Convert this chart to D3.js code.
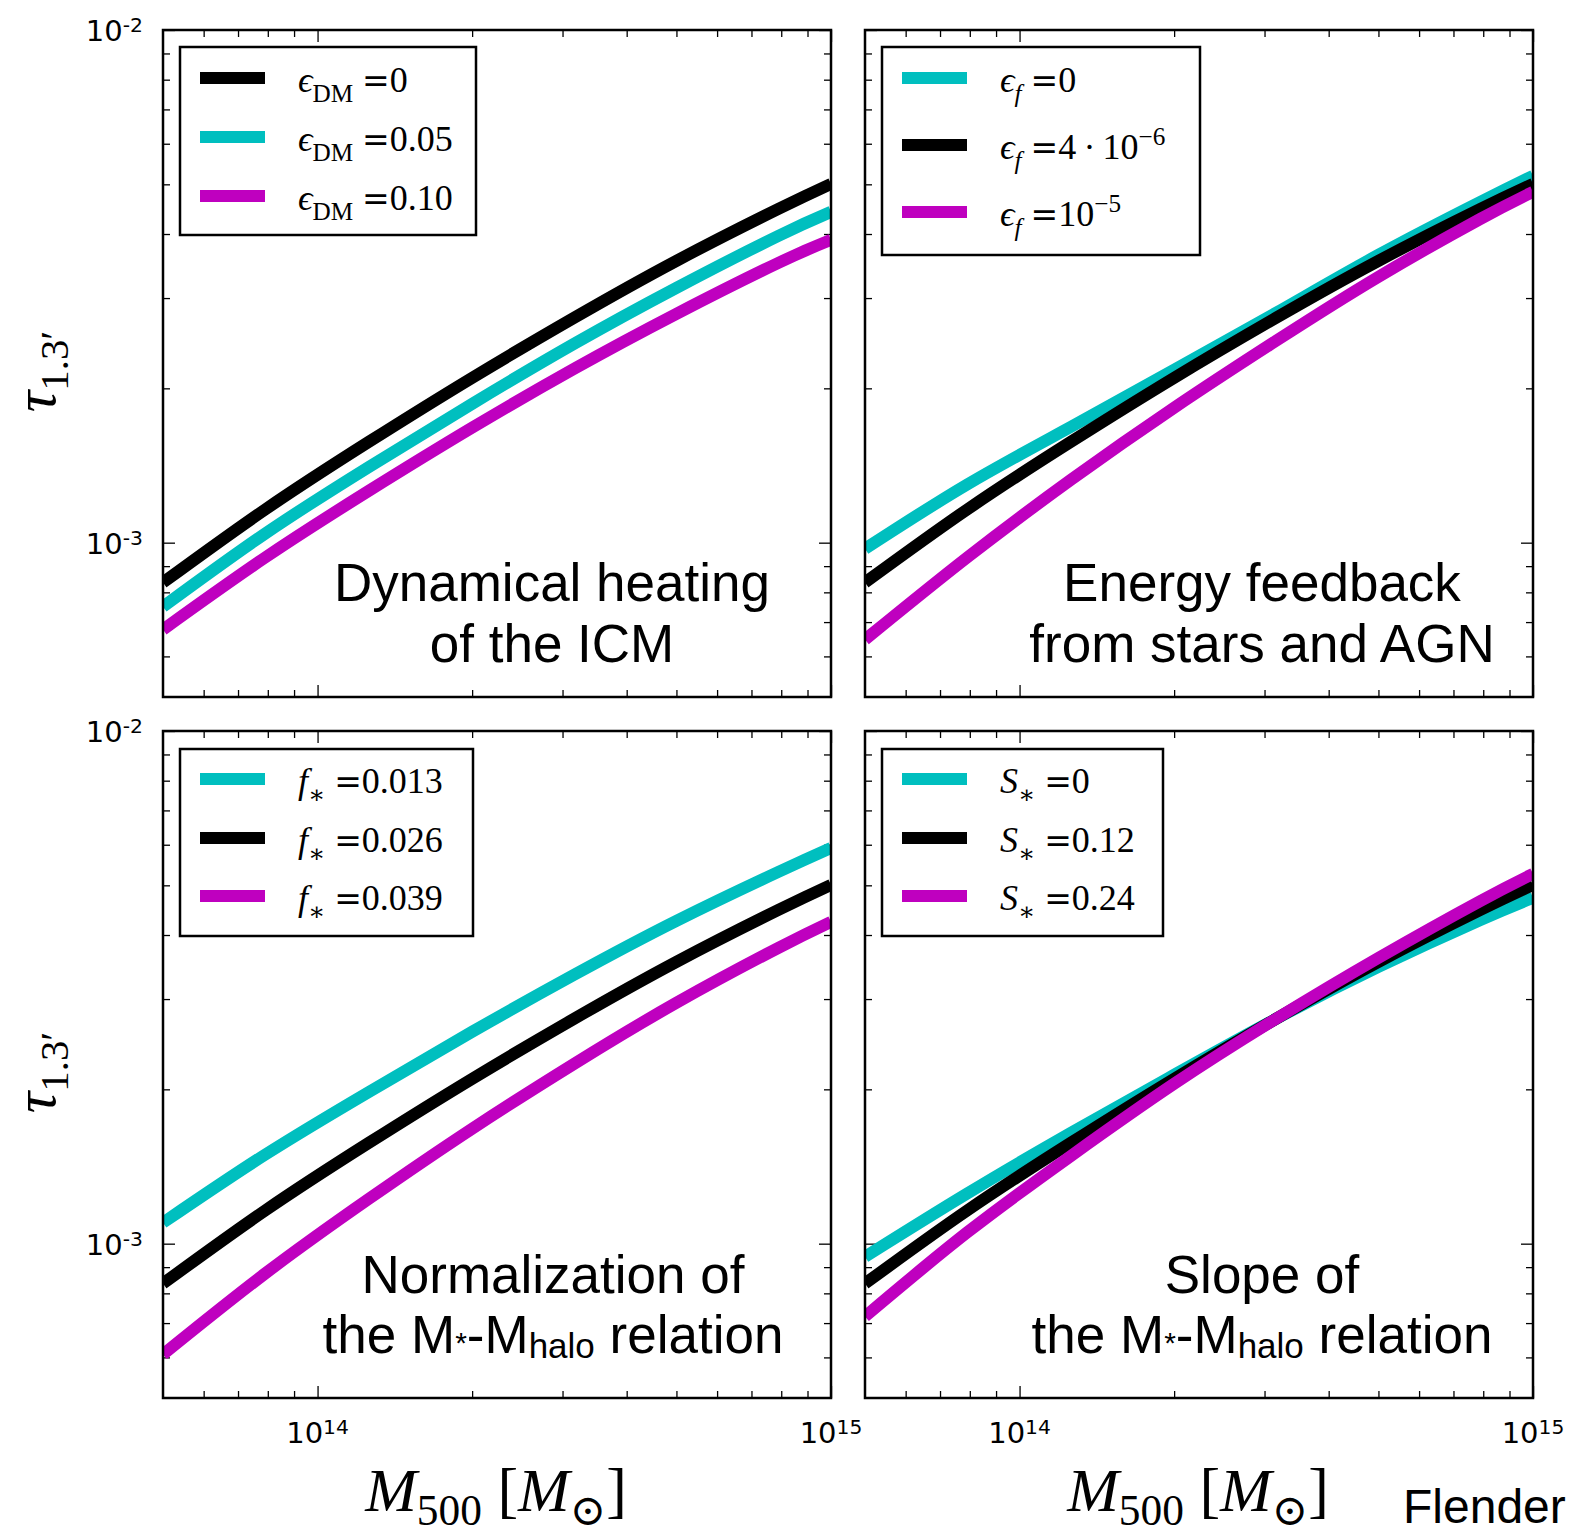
<!DOCTYPE html>
<html><head><meta charset="utf-8">
<script src="https://cdn.jsdelivr.net/npm/d3@7"></script>
<style>body{margin:0;background:#fff} svg{display:block} text{white-space:pre}</style>
</head><body>
<svg id="chart" width="1572" height="1533"></svg>
<script>
// ---- data ----
const massGrid      = [5.0e13, 7.9e13, 1.26e14, 2.0e14, 3.16e14, 5.0e14, 7.9e14, 1.0e15];
const tauFiducial   = [8.36e-4, 1.160e-3, 1.574e-3, 2.097e-3, 2.746e-3, 3.546e-3, 4.478e-3, 5.010e-3];
const tauEpsDM005   = [7.50e-4, 1.041e-3, 1.406e-3, 1.866e-3, 2.443e-3, 3.141e-3, 3.967e-3, 4.418e-3];
const tauEpsDM010   = [6.77e-4, 9.35e-4, 1.263e-3, 1.676e-3, 2.184e-3, 2.795e-3, 3.514e-3, 3.896e-3];
const tauEpsF0      = [9.73e-4, 1.298e-3, 1.683e-3, 2.174e-3, 2.808e-3, 3.642e-3, 4.621e-3, 5.194e-3];
const tauEpsF1e5    = [6.47e-4, 9.35e-4, 1.327e-3, 1.833e-3, 2.476e-3, 3.300e-3, 4.281e-3, 4.833e-3];
const tauFstar013   = [1.099e-3, 1.491e-3, 1.978e-3, 2.590e-3, 3.345e-3, 4.262e-3, 5.311e-3, 5.913e-3];
const tauFstar039   = [6.08e-4, 8.74e-4, 1.224e-3, 1.676e-3, 2.243e-3, 2.950e-3, 3.776e-3, 4.243e-3];
const tauSstar0     = [9.43e-4, 1.252e-3, 1.646e-3, 2.135e-3, 2.746e-3, 3.467e-3, 4.281e-3, 4.726e-3];
const tauSstar024   = [7.21e-4, 1.051e-3, 1.484e-3, 2.050e-3, 2.746e-3, 3.610e-3, 4.662e-3, 5.264e-3];

const xMajorTicks = [1e14, 1e15];
const xMinorTicks = [6e13, 7e13, 8e13, 9e13, 2e14, 3e14, 4e14, 5e14, 6e14, 7e14, 8e14, 9e14];
const yMajorTicks = [1e-3, 1e-2];
const yMinorTicks = [6e-4, 7e-4, 8e-4, 9e-4, 2e-3, 3e-3, 4e-3, 5e-3, 6e-3, 7e-3, 8e-3, 9e-3];
const xTickLabels = [["10", "14"], ["10", "15"]];
const yTickLabels = [["10", "-3"], ["10", "-2"]];

const BLACK = "#000000", CYAN = "#00bfbf", MAGENTA = "#bf00bf";

// ---- layout ----
const W = 668, H = 667;
const x = d3.scaleLog().domain([5e13, 1e15]).range([0, W]);
const y = d3.scaleLog().domain([5e-4, 1e-2]).range([H, 0]);

const SERIF = "'Liberation Serif','DejaVu Serif',serif";
const SANS = "'Liberation Sans',Arial,sans-serif";
const DEJAVU = "'DejaVu Sans',sans-serif";
const DJSERIF = "'DejaVu Serif',serif";

const eps = {t: "\u03F5", it: 1};
const EQ = [{t: " "}, {t: "=", fam: DJSERIF, size: 33}];
const panels = [
  {ox: 163, oy: 30, left: true, bottom: false,
   series: [
     {v: tauFiducial, c: BLACK, label: [eps, {t: "DM", sub: 1}, ...EQ, {t: "0"}]},
     {v: tauEpsDM005, c: CYAN, label: [eps, {t: "DM", sub: 1}, ...EQ, {t: "0.05"}]},
     {v: tauEpsDM010, c: MAGENTA, label: [eps, {t: "DM", sub: 1}, ...EQ, {t: "0.10"}]}],
   legend: {x: 17, y: 17, w: 296, h: 188, rows: [48, 107, 166]},
   note: [[{t: "Dynamical heating"}], [{t: "of the ICM"}]], noteX: 389, noteY: [571, 632]},
  {ox: 865, oy: 30, left: false, bottom: false,
   series: [
     {v: tauEpsF0, c: CYAN, label: [eps, {t: "f", it: 1, sub: 1}, ...EQ, {t: "0"}]},
     {v: tauFiducial, c: BLACK, label: [eps, {t: "f", it: 1, sub: 1}, ...EQ, {t: "4\u2009\u00B7\u200910"}, {t: "\u22126", sup: 1}]},
     {v: tauEpsF1e5, c: MAGENTA, label: [eps, {t: "f", it: 1, sub: 1}, ...EQ, {t: "10"}, {t: "\u22125", sup: 1}]}],
   legend: {x: 17, y: 17, w: 318, h: 208, rows: [48, 115, 182]},
   note: [[{t: "Energy feedback"}], [{t: "from stars and AGN"}]], noteX: 397, noteY: [571, 632]},
  {ox: 163, oy: 731, left: true, bottom: true,
   series: [
     {v: tauFstar013, c: CYAN, label: [{t: "f", it: 1}, {t: "\u2217", sub: 1}, ...EQ, {t: "0.013"}]},
     {v: tauFiducial, c: BLACK, label: [{t: "f", it: 1}, {t: "\u2217", sub: 1}, ...EQ, {t: "0.026"}]},
     {v: tauFstar039, c: MAGENTA, label: [{t: "f", it: 1}, {t: "\u2217", sub: 1}, ...EQ, {t: "0.039"}]}],
   legend: {x: 17, y: 18, w: 293, h: 187, rows: [48, 107, 165]},
   note: [[{t: "Normalization of"}],
          [{t: "the M"}, {t: "*", size: 30}, {t: "-M"}, {t: "halo", size: 35, shift: 5}, {t: " relation"}]],
   noteX: 390, noteY: [562, 622]},
  {ox: 865, oy: 731, left: false, bottom: true,
   series: [
     {v: tauSstar0, c: CYAN, label: [{t: "S", it: 1}, {t: "\u2217", sub: 1}, ...EQ, {t: "0"}]},
     {v: tauFiducial, c: BLACK, label: [{t: "S", it: 1}, {t: "\u2217", sub: 1}, ...EQ, {t: "0.12"}]},
     {v: tauSstar024, c: MAGENTA, label: [{t: "S", it: 1}, {t: "\u2217", sub: 1}, ...EQ, {t: "0.24"}]}],
   legend: {x: 17, y: 18, w: 281, h: 187, rows: [48, 107, 165]},
   note: [[{t: "Slope of"}],
          [{t: "the M"}, {t: "*", size: 30}, {t: "-M"}, {t: "halo", size: 35, shift: 5}, {t: " relation"}]],
   noteX: 397, noteY: [562, 622]}
];

const svg = d3.select("#chart");

// helper: segments with relative baseline shifts
function addSegments(textSel, segs, baseSize, opts = {}) {
  let cur = 0;
  segs.forEach(s => {
    const size = s.size || (s.sub || s.sup ? baseSize * (opts.subScale || 0.66) : baseSize);
    let shift = s.shift || 0;
    if (s.sub) shift = opts.subShift != null ? opts.subShift : baseSize * 0.3;
    if (s.sup) shift = opts.supShift != null ? opts.supShift : -baseSize * 0.42;
    const ts = textSel.append("tspan").text(s.t)
      .attr("font-size", size)
      .attr("dy", shift - cur);
    if (s.it) ts.attr("font-style", "italic");
    if (s.fam) ts.attr("font-family", s.fam);
    cur = shift;
  });
}

panels.forEach((p, i) => {
  const g = svg.append("g").attr("transform", `translate(${p.ox},${p.oy})`);
  const clipId = "clip" + i;
  g.append("clipPath").attr("id", clipId).append("rect").attr("width", W).attr("height", H);

  // ticks (inside, all four sides)
  const mk = (axisFn, vals, len) => axisFn.tickValues(vals).tickSize(-len).tickFormat("");
  const addAxis = (ax, tr) => {
    const a = g.append("g").attr("transform", tr).call(ax);
    a.select(".domain").remove();
    a.selectAll("line").attr("stroke", "#000").attr("stroke-width", 1.3);
  };
  addAxis(mk(d3.axisBottom(x), xMajorTicks, 12), `translate(0,${H})`);
  addAxis(mk(d3.axisBottom(x), xMinorTicks, 7), `translate(0,${H})`);
  addAxis(mk(d3.axisTop(x), xMajorTicks, 12), `translate(0,0)`);
  addAxis(mk(d3.axisTop(x), xMinorTicks, 7), `translate(0,0)`);
  addAxis(mk(d3.axisLeft(y), yMajorTicks, 12), `translate(0,0)`);
  addAxis(mk(d3.axisLeft(y), yMinorTicks, 7), `translate(0,0)`);
  addAxis(mk(d3.axisRight(y), yMajorTicks, 12), `translate(${W},0)`);
  addAxis(mk(d3.axisRight(y), yMinorTicks, 7), `translate(${W},0)`);

  // curves
  const line = d3.line().x((d, k) => x(massGrid[k])).y(d => y(d)).curve(d3.curveNatural);
  const lg = g.append("g").attr("clip-path", `url(#${clipId})`);
  p.series.forEach(s => {
    lg.append("path").attr("d", line(s.v)).attr("fill", "none")
      .attr("stroke", s.c).attr("stroke-width", 12).attr("stroke-linecap", "butt");
  });

  // legend
  const L = p.legend;
  const leg = g.append("g");
  leg.append("rect").attr("x", L.x).attr("y", L.y).attr("width", L.w).attr("height", L.h)
    .attr("fill", "#fff").attr("stroke", "#000").attr("stroke-width", 2.5);
  p.series.forEach((s, k) => {
    const ry = L.rows[k];
    leg.append("line").attr("x1", 37).attr("x2", 102).attr("y1", ry).attr("y2", ry)
      .attr("stroke", s.c).attr("stroke-width", 12);
    const t = leg.append("text").attr("x", 135).attr("y", ry + 14)
      .attr("font-family", SERIF).attr("fill", "#000");
    addSegments(t, s.label, 36, {subScale: 0.7, subShift: 10, supShift: -14});
  });

  // annotation
  p.note.forEach((segs, k) => {
    const t = g.append("text").attr("x", p.noteX).attr("y", p.noteY[k])
      .attr("text-anchor", "middle").attr("font-family", SANS).attr("fill", "#000");
    addSegments(t, segs, 53);
  });

  // frame
  g.append("rect").attr("width", W).attr("height", H).attr("fill", "none")
    .attr("stroke", "#000").attr("stroke-width", 2.5);

  // y tick labels
  if (p.left) {
    yMajorTicks.forEach((v, k) => {
      const t = svg.append("text").attr("x", p.ox - 20).attr("y", p.oy + y(v) + 11)
        .attr("text-anchor", "end").attr("font-family", DEJAVU).attr("fill", "#000");
      addSegments(t, [{t: yTickLabels[k][0]}, {t: yTickLabels[k][1], sup: 1}], 29, {subScale: 0.7, supShift: -9});
    });
    const yt = svg.append("text")
      .attr("transform", `translate(55,${p.oy + H / 2 + 8}) rotate(-90)`)
      .attr("text-anchor", "middle").attr("font-family", SERIF).attr("fill", "#000");
    addSegments(yt, [{t: "\u03C4", it: 1}, {t: "1.3\u2032", sub: 1}], 60, {subScale: 0.68, subShift: 13});
  }
  // x tick labels + title
  if (p.bottom) {
    xMajorTicks.forEach((v, k) => {
      const t = svg.append("text").attr("x", p.ox + x(v)).attr("y", p.oy + H + 45)
        .attr("text-anchor", "middle").attr("font-family", DEJAVU).attr("fill", "#000");
      addSegments(t, [{t: xTickLabels[k][0]}, {t: xTickLabels[k][1], sup: 1}], 29, {subScale: 0.7, supShift: -9});
    });
    const xt = svg.append("text").attr("x", p.ox + 333).attr("y", p.oy + H + 113)
      .attr("text-anchor", "middle").attr("font-family", SERIF).attr("fill", "#000");
    addSegments(xt, [{t: "M", it: 1}, {t: "500", sub: 1}, {t: " ["}, {t: "M", it: 1},
                     {t: "\u2299", sub: 1}, {t: "]"}], 62, {subScale: 0.7, subShift: 14});
  }
});

svg.append("text").attr("x", 1403).attr("y", 1523).attr("font-family", SANS)
  .attr("font-size", 48).attr("fill", "#000").text("Flender");
</script>
</body></html>
